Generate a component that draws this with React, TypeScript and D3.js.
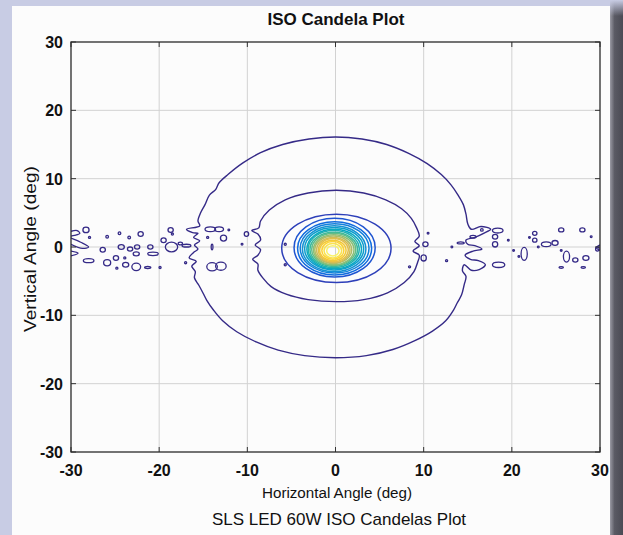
import React from "react";
import * as d3 from "d3";

// ---------- data (degrees) ----------
const xTicks = [-30, -20, -10, 0, 10, 20, 30];
const yTicks = [-30, -20, -10, 0, 10, 20, 30];

// outermost iso-candela contour, traced
const outerContour: [number, number][] = [
  [0, 16.1], [-3, 15.8], [-6, 15.0], [-8.5, 13.8], [-10.5, 12.3], [-12.2, 10.6], [-13.2, 9.4],
  [-13.6, 8.4], [-14.3, 7.6], [-14.8, 6.2], [-15.3, 5.0], [-15.6, 3.8], [-15.4, 3.1], [-16.9, 2.6],
  [-16.2, 2.1], [-15.6, 2.0], [-16.1, 1.4], [-15.4, 0.9], [-16.0, 0.3], [-15.6, -0.3], [-16.1, -0.8],
  [-16.6, -1.6], [-15.8, -2.1], [-16.3, -2.8], [-15.9, -3.6], [-16.0, -4.5], [-15.5, -5.6],
  [-15.0, -6.8], [-14.6, -7.8], [-13.8, -9.3], [-12.8, -10.8], [-11.2, -12.4], [-9, -13.9],
  [-6.5, -15.1], [-3.5, -15.9], [0, -16.2], [3.5, -15.9], [6.5, -15], [9, -13.7], [11, -12.3],
  [12.5, -10.8], [13.4, -9.2], [13.8, -8.2], [14.3, -7.0], [14.6, -5.5], [14.8, -4.3], [14.4, -3.5],
  [14.6, -2.6], [15.4, -3.4], [16.3, -3.3], [17.0, -2.6], [16.2, -2.0], [15.3, -1.8], [14.7, -1.2],
  [15.6, -0.6], [16.6, -0.3], [15.8, 0.2], [15.0, 0.4], [14.8, 1.0], [15.8, 1.4], [16.8, 2.0],
  [17.6, 2.6], [16.5, 3.0], [15.4, 2.6], [15.0, 3.4], [14.8, 4.8], [14.5, 6.2], [13.9, 7.6],
  [13.1, 9.1], [12.0, 10.6], [10.4, 12.2], [8.3, 13.7], [5.8, 15.0], [3, 15.8],
];

// second contour, traced
const secondContour: [number, number][] = [
  [0.1, 8.3], [-3.1, 7.9], [-5.7, 6.9], [-7.5, 5.4], [-8.5, 3.8], [-8.7, 2.8], [-9.5, 2.4],
  [-8.8, 1.9], [-8.5, 1.0], [-9.1, 0.3], [-8.5, -0.4], [-8.8, -1.2], [-9.4, -1.8], [-8.8, -2.5],
  [-8.8, -3.4], [-8.2, -4.6], [-7.3, -5.8], [-5.6, -6.9], [-3.1, -7.7], [0.1, -8.0], [3.2, -7.7],
  [5.9, -6.7], [7.8, -5.2], [8.9, -3.6], [9.3, -2.3], [9.5, -1.2], [8.8, -0.6], [9.5, 0.2],
  [9.0, 0.8], [9.5, 1.6], [9.2, 2.8], [8.6, 4.2], [7.5, 5.6], [5.7, 6.9], [3.2, 7.9],
];

// inner rings (level 3 .. 20)
const ringRx = [6.2, 4.6, 4.2, 3.9, 3.6, 3.35, 3.1, 2.9, 2.7, 2.5, 2.3, 2.1, 1.9, 1.7, 1.5, 1.25, 1.0, 0.7];
const ringRy = [5.0, 4.3, 3.9, 3.6, 3.35, 3.1, 2.9, 2.7, 2.5, 2.35, 2.2, 2.0, 1.85, 1.7, 1.5, 1.3, 1.05, 0.75];
const ringCx = [0.1, -0.1, -0.1, -0.1, -0.15, -0.15, -0.15, -0.2, -0.2, -0.2, -0.2, -0.25, -0.25, -0.25, -0.3, -0.3, -0.3, -0.3];
const ringCy = [-0.2, -0.1, -0.2, -0.2, -0.25, -0.25, -0.3, -0.3, -0.35, -0.35, -0.4, -0.4, -0.45, -0.45, -0.5, -0.5, -0.55, -0.55];

// small isolated contour islands: [x, y, rx, ry]
const islands: [number, number, number, number][] = [
  [-28.3, 2.5, 0.35, 0.4], [-27.9, 1.4, 0.12, 0.15], [-26.4, -0.4, 0.3, 0.35], [-25.9, 1.5, 0.15, 0.2],
  [-24.5, 2.0, 0.15, 0.2], [-23.4, 1.4, 0.15, 0.2], [-22.1, 1.9, 0.3, 0.35], [-24.3, 0, 0.35, 0.35],
  [-23.3, -0.3, 0.3, 0.3], [-22.5, 0, 0.3, 0.3], [-22.6, -1.0, 0.35, 0.3], [-21.0, 0, 0.3, 0.3],
  [-20.7, -1.0, 0.6, 0.25], [-28.0, -2.0, 0.6, 0.3], [-25.9, -2.3, 0.4, 0.45], [-24.9, -1.6, 0.3, 0.35],
  [-23.9, -1.6, 0.12, 0.15], [-23.8, -2.6, 0.35, 0.35], [-22.6, -2.9, 0.5, 0.55], [-24.8, -3.1, 0.12, 0.15],
  [-21.3, -3.0, 0.35, 0.15], [-19.9, -3.0, 0.12, 0.15], [-19.5, 1.0, 0.3, 0.35], [-18.7, 2.5, 0.3, 0.35],
  [-18.5, 1.9, 0.12, 0.15], [-18.6, 0, 0.7, 0.7], [-14.2, 2.6, 0.6, 0.35], [-13.2, 2.6, 0.5, 0.35],
  [-12.7, 1.3, 0.35, 0.45], [-14.0, -2.9, 0.6, 0.6], [-13.0, -2.8, 0.6, 0.6], [-12.1, 2.5, 0.1, 0.12],
  [-10.1, 1.9, 0.25, 0.35], [-10.6, 0.4, 0.1, 0.12], [-14.0, 0, 0.1, 0.4], [-14.5, 1.4, 0.12, 0.15],
  [-16.9, 0.2, 0.5, 0.2], [-17.6, 0.5, 0.25, 0.2], [-5.7, 0.4, 0.12, 0.15], [-5.7, -2.6, 0.12, 0.15],
  [-17.0, -2.3, 0.12, 0.15],
  [10.2, 0.4, 0.3, 0.35], [10.5, 2.0, 0.1, 0.12], [10.0, -1.6, 0.3, 0.45], [8.4, -2.9, 0.12, 0.15],
  [12.6, -2.0, 0.12, 0.15], [13.2, 0, 0.1, 0.12], [14.2, 0.6, 0.4, 0.15], [15.6, 1.5, 0.35, 0.2],
  [16.6, 2.5, 0.15, 0.18], [18.4, 2.4, 0.6, 0.35], [18.1, 1.5, 0.3, 0.35], [18.1, 0.4, 0.3, 0.4],
  [18.5, -2.6, 0.7, 0.4], [19.6, 1.0, 0.1, 0.12], [22.6, 2.0, 0.25, 0.3], [22.0, 1.4, 0.1, 0.12],
  [22.6, 1.0, 0.25, 0.3], [21.4, -1.0, 0.35, 0.95], [20.2, -0.5, 0.1, 0.12], [20.8, -1.4, 0.1, 0.12],
  [23.0, 0, 0.1, 0.12], [23.9, 0.4, 0.55, 0.35], [24.9, 0.6, 0.35, 0.35], [25.6, 2.5, 0.3, 0.3],
  [28.0, 2.5, 0.3, 0.3], [29.0, 1.5, 0.1, 0.12], [25.6, -0.5, 0.1, 0.12], [26.2, -1.4, 0.35, 0.8],
  [27.2, -1.9, 0.3, 0.3], [28.4, -1.6, 0.35, 0.35], [25.6, -3.0, 0.25, 0.12], [28.1, -3.0, 0.25, 0.12],
  [29.7, -0.3, 0.2, 0.3],
];

// open contour pieces touching the plot edges
const edgePieces: [number, number][][] = [
  [[-30, 2.3], [-29.3, 2.4], [-29.0, 2.0], [-29.6, 1.7], [-30, 1.6]],
  [[-30, 1.3], [-28.9, 0.7], [-28.0, 0.0], [-28.7, -0.2], [-30, 0.4]],
  [[-30, -0.6], [-29.2, -0.9], [-30, -1.3]],
  [[30, 0.3], [29.6, -0.1], [30, -0.5]],
];

const parulaStops = ["#352a87", "#2a45c8", "#0f6ee0", "#1491d4", "#06a7c6", "#38b99e", "#92bf73", "#d9ba56", "#fcce2e", "#f9f26a"];

const W = 623, H = 535;
const PL = 71, PR = 600, PT = 42, PB = 452;
const FONT = "'Liberation Sans', Arial, Helvetica, sans-serif";

export default function App() {
  const x = d3.scaleLinear().domain([-30, 30]).range([PL, PR]);
  const y = d3.scaleLinear().domain([-30, 30]).range([PB, PT]);
  const parula = d3.piecewise(d3.interpolateRgb, parulaStops);
  const nLevels = 2 + ringRx.length;
  const colorAt = (i: number) => parula(Math.pow(Math.max(0, (i - 1) / (nLevels - 2)), 0.85));
  const closedLine = d3.line<[number, number]>().x((d) => x(d[0])).y((d) => y(d[1])).curve(d3.curveCatmullRomClosed.alpha(0.5));
  const openLine = d3.line<[number, number]>().x((d) => x(d[0])).y((d) => y(d[1])).curve(d3.curveCatmullRom.alpha(0.5));
  const navy = colorAt(0);

  return (
    <svg width={W} height={H} style={{ position: "absolute", left: 0, top: 0 }}>
      <defs>
        <linearGradient id="rs" x1="0" x2="1" y1="0" y2="0">
          <stop offset="0" stopColor="#9a9aa4" />
          <stop offset="0.35" stopColor="#5a5a64" />
          <stop offset="1" stopColor="#4a4a54" />
        </linearGradient>
        <linearGradient id="rsTop" x1="0" x2="0" y1="0" y2="1">
          <stop offset="0" stopColor="#c8cce4" />
          <stop offset="1" stopColor="#c8cce4" stopOpacity="0" />
        </linearGradient>
        <clipPath id="plotClip">
          <rect x={PL} y={PT} width={PR - PL} height={PB - PT} />
        </clipPath>
      </defs>
      <rect x={0} y={0} width={W} height={H} fill="#c8cce4" />
      <rect x={610} y={0} width={13} height={H} fill="url(#rs)" />
      <rect x={610} y={0} width={13} height={16} fill="url(#rsTop)" />
      <rect x={12} y={6} width={598} height={H - 6} fill="#fcfcfc" />

      {/* grid */}
      <g stroke="#d2d2d2" strokeWidth={1}>
        {xTicks.slice(1, -1).map((t) => (
          <line key={"gx" + t} x1={x(t)} x2={x(t)} y1={PT} y2={PB} />
        ))}
        {yTicks.slice(1, -1).map((t) => (
          <line key={"gy" + t} y1={y(t)} y2={y(t)} x1={PL} x2={PR} />
        ))}
      </g>

      {/* contours */}
      <g clipPath="url(#plotClip)" fill="none" strokeWidth={1.4} strokeLinejoin="round">
        <path d={closedLine(outerContour) || ""} stroke={navy} />
        <path d={closedLine(secondContour) || ""} stroke={colorAt(1)} />
        {ringRx.map((rx, i) => (
          <ellipse
            key={"r" + i}
            cx={x(ringCx[i])}
            cy={y(ringCy[i])}
            rx={x(ringCx[i] + rx) - x(ringCx[i])}
            ry={y(ringCy[i]) - y(ringCy[i] + ringRy[i])}
            stroke={colorAt(i + 2)}
            strokeWidth={1.5}
          />
        ))}
        {islands.map((b, i) => (
          <ellipse
            key={"b" + i}
            cx={x(b[0])}
            cy={y(b[1])}
            rx={x(b[0] + b[2]) - x(b[0])}
            ry={y(b[1]) - y(b[1] + b[3])}
            stroke={navy}
            strokeWidth={1.3}
          />
        ))}
        {edgePieces.map((p, i) => (
          <path key={"e" + i} d={openLine(p) || ""} stroke={navy} strokeWidth={1.3} />
        ))}
      </g>

      {/* ticks */}
      <g stroke="#333" strokeWidth={1}>
        {xTicks.map((t) => (
          <g key={"tx" + t}>
            <line x1={x(t)} x2={x(t)} y1={PB} y2={PB - 5} />
            <line x1={x(t)} x2={x(t)} y1={PT} y2={PT + 5} />
          </g>
        ))}
        {yTicks.map((t) => (
          <g key={"ty" + t}>
            <line y1={y(t)} y2={y(t)} x1={PL} x2={PL + 5} />
            <line y1={y(t)} y2={y(t)} x1={PR} x2={PR - 5} />
          </g>
        ))}
      </g>
      <rect x={PL} y={PT} width={PR - PL} height={PB - PT} fill="none" stroke="#2a2a2a" strokeWidth={1.3} />

      {/* tick labels */}
      <g fontFamily={FONT} fontWeight="bold" fontSize={16} fill="#111">
        {xTicks.map((t) => (
          <text key={"lx" + t} x={x(t)} y={PB + 24} textAnchor="middle">
            {t}
          </text>
        ))}
        {yTicks.map((t) => (
          <text key={"ly" + t} x={PL - 8} y={y(t) + 6} textAnchor="end">
            {t}
          </text>
        ))}
      </g>

      <text x={336} y={25} textAnchor="middle" fontFamily={FONT} fontWeight="bold" fontSize={17} fill="#111">
        ISO Candela Plot
      </text>
      <text x={337} y={498} textAnchor="middle" fontFamily={FONT} fontSize={14} fill="#111" textLength={150} lengthAdjust="spacingAndGlyphs">
        Horizontal Angle (deg)
      </text>
      <text x={339} y={525} textAnchor="middle" fontFamily={FONT} fontSize={17} fill="#111">
        SLS LED 60W ISO Candelas Plot
      </text>
      <text
        transform={`translate(36, ${y(0) + 2}) rotate(-90)`}
        textAnchor="middle"
        fontFamily={FONT}
        fontSize={16.5}
        fill="#111"
        textLength={166}
        lengthAdjust="spacingAndGlyphs"
      >
        Vertical Angle (deg)
      </text>
    </svg>
  );
}
